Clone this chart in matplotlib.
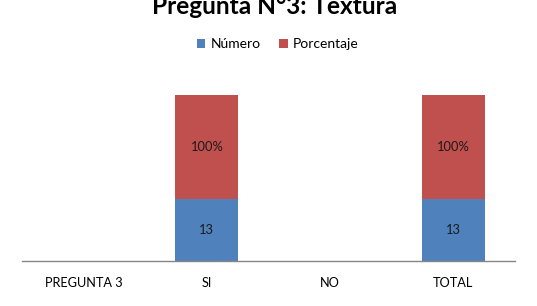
import matplotlib
matplotlib.use('Agg')
import matplotlib.pyplot as plt
import numpy as np

plt.rcParams['font.family'] = ['Lato', 'DejaVu Sans']

categorias = ['PREGUNTA 3', 'SI', 'NO', 'TOTAL']
numero = [0, 13, 0, 13]
# altura del segmento rojo tal como aparece en la imagen
porcentaje_alto = [0, 21.8, 0, 21.8]
etiq_numero = ['', '13', '', '13']
etiq_porcentaje = ['', '100%', '', '100%']

azul = '#4F81BD'
rojo = '#C0504D'

fig = plt.figure(figsize=(5.37, 3.06), dpi=100)
W, H = 537, 306
ax = fig.add_axes([22/W, (H-261.3)/H, (515-22)/W, (261.3-85)/H])

x = np.arange(len(categorias))
b1 = ax.bar(x, numero, 0.51, color=azul, label='Número')
b2 = ax.bar(x, porcentaje_alto, 0.51, bottom=numero, color=rojo, label='Porcentaje')

for i in range(len(x)):
    if etiq_numero[i]:
        ax.text(x[i], numero[i]/2, etiq_numero[i], ha='center', va='center',
                fontsize=9.3, color='#1a1a1a')
    if etiq_porcentaje[i]:
        ax.text(x[i], numero[i] + porcentaje_alto[i]/2, etiq_porcentaje[i],
                ha='center', va='center', fontsize=9.3, color='#1a1a1a')

ax.set_xlim(-0.5, len(categorias) - 0.5)
ax.set_ylim(0, 37)
ax.set_xticks(x)
ax.set_xticklabels(categorias, fontsize=9.2)
ax.tick_params(axis='x', length=0, pad=11)
ax.set_yticks([])
for s in ['top', 'right', 'left']:
    ax.spines[s].set_visible(False)
ax.spines['bottom'].set_color('#868686')
ax.spines['bottom'].set_linewidth(1)

fig.text(275/W, (H-14)/H, 'Pregunta N°3: Textura', ha='center', va='baseline',
         fontsize=17.6, fontweight='bold')

fig.legend(handles=[b1, b2], loc='center', bbox_to_anchor=(278/W, (H-44)/H),
           ncol=2, frameon=False, fontsize=10, handlelength=0.6, handleheight=0.6,
           handletextpad=0.4, columnspacing=1.3)

fig.savefig('out.png', dpi=100)
